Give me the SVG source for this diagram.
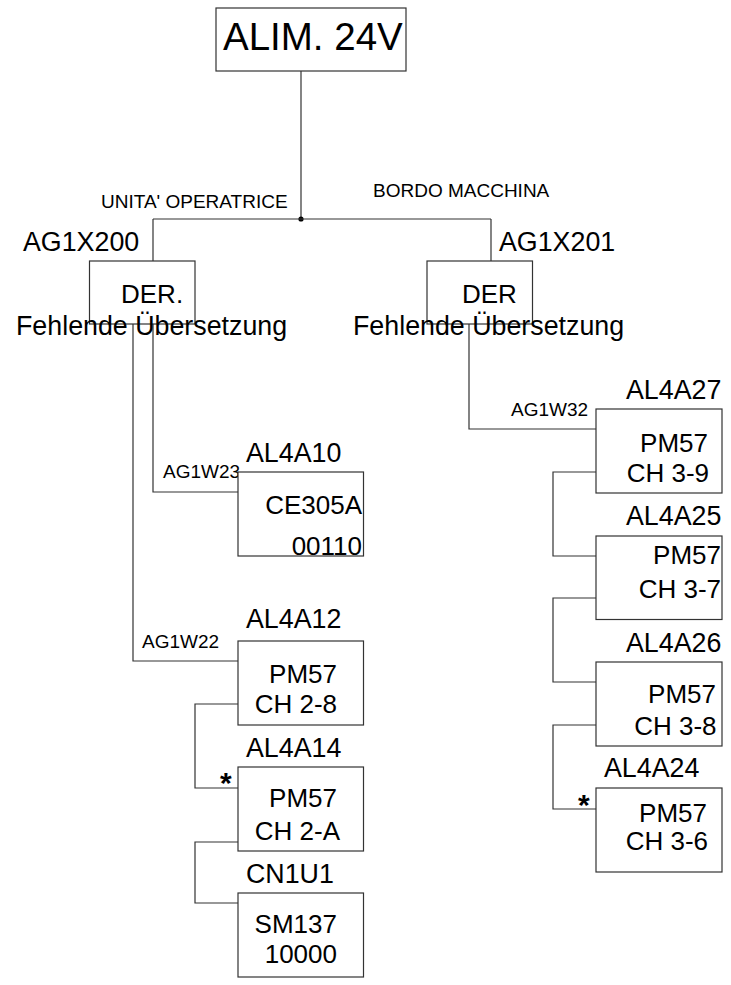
<svg xmlns="http://www.w3.org/2000/svg" width="731" height="985" viewBox="0 0 731 985">
<style>
.bx{fill:#fff;stroke:#333;stroke-width:1.2}
.ln{fill:none;stroke:#333;stroke-width:1.2}
text{font-family:"Liberation Sans",Arial,sans-serif;fill:#000}
.b{font-size:26px}
.l{font-size:26.8px}
.s{font-size:19px}
.e{text-anchor:end}
.ast{font-size:30px;font-weight:bold}
</style>
<rect width="731" height="985" fill="#fff"/>
<g id="connectors">
<path class="ln" d="M301,71 V219"/>
<circle cx="301" cy="219" r="2.6" fill="#000"/>
<path class="ln" d="M153,219 H491"/>
<path class="ln" d="M153,219 V261"/>
<path class="ln" d="M491,219 V261"/>
<path class="ln" d="M153,324 V492 H238"/>
<path class="ln" d="M133,324 V661 H238"/>
<path class="ln" d="M469,324 V429 H596"/>
<path class="ln" d="M238,704 H195 V788 H238"/>
<path class="ln" d="M238,842 H195 V903 H238"/>
<path class="ln" d="M596,472 H553 V556 H596"/>
<path class="ln" d="M596,598 H553 V682 H596"/>
<path class="ln" d="M596,725 H553 V809 H596"/>
<text class="s" x="101" y="208">UNITA' OPERATRICE</text>
<text class="s" x="373" y="197">BORDO MACCHINA</text>
<text class="s" x="163" y="478">AG1W23</text>
<text class="s" x="142" y="648">AG1W22</text>
<text class="s" x="511" y="416">AG1W32</text>
<text class="ast" x="220" y="793">*</text>
<text class="ast" x="578" y="815">*</text>
</g>
<g id="alim">
<rect class="bx" x="216" y="8" width="190" height="63"/>
<text x="223" y="50" font-size="38.5">ALIM. 24V</text>
</g>
<g id="der-left">
<rect class="bx" x="89.5" y="261" width="105.5" height="63"/>
<text class="l" x="23" y="251">AG1X200</text>
<text class="b" x="121" y="303">DER.</text>
<text class="l" x="16" y="335">Fehlende Übersetzung</text>
</g>
<g id="der-right">
<rect class="bx" x="427" y="261" width="105.5" height="63"/>
<text class="l" x="499" y="251">AG1X201</text>
<text class="b" x="462" y="303">DER</text>
<text class="l" x="353" y="335">Fehlende Übersetzung</text>
</g>
<g id="AL4A10">
<rect class="bx" x="238" y="472" width="125.5" height="84"/>
<text class="l" x="246" y="462">AL4A10</text>
<text class="b e" x="362" y="514">CE305A</text>
<text class="b e" x="362" y="555">00110</text>
</g>
<g id="AL4A12">
<rect class="bx" x="238" y="641" width="125.5" height="84"/>
<text class="l" x="246" y="628">AL4A12</text>
<text class="b e" x="337" y="683">PM57</text>
<text class="b e" x="337" y="713">CH 2-8</text>
</g>
<g id="AL4A14">
<rect class="bx" x="238" y="767" width="125.5" height="84"/>
<text class="l" x="246" y="757">AL4A14</text>
<text class="b e" x="337" y="807">PM57</text>
<text class="b e" x="340" y="840">CH 2-A</text>
</g>
<g id="CN1U1">
<rect class="bx" x="238" y="893" width="125.5" height="84"/>
<text class="l" x="246" y="883">CN1U1</text>
<text class="b e" x="337" y="933">SM137</text>
<text class="b e" x="337" y="963">10000</text>
</g>
<g id="AL4A27">
<rect class="bx" x="596" y="409" width="126" height="84"/>
<text class="l" x="626" y="399">AL4A27</text>
<text class="b e" x="708" y="452">PM57</text>
<text class="b e" x="709" y="482">CH 3-9</text>
</g>
<g id="AL4A25">
<rect class="bx" x="596" y="536" width="126" height="83.5"/>
<text class="l" x="626" y="525">AL4A25</text>
<text class="b e" x="721" y="564">PM57</text>
<text class="b e" x="721" y="598">CH 3-7</text>
</g>
<g id="AL4A26">
<rect class="bx" x="596" y="662" width="126" height="84"/>
<text class="l" x="626" y="652">AL4A26</text>
<text class="b e" x="716" y="703">PM57</text>
<text class="b e" x="716.5" y="735">CH 3-8</text>
</g>
<g id="AL4A24">
<rect class="bx" x="596" y="788" width="126" height="84"/>
<text class="l" x="604" y="777">AL4A24</text>
<text class="b e" x="707" y="822">PM57</text>
<text class="b e" x="708" y="850">CH 3-6</text>
</g>
</svg>
